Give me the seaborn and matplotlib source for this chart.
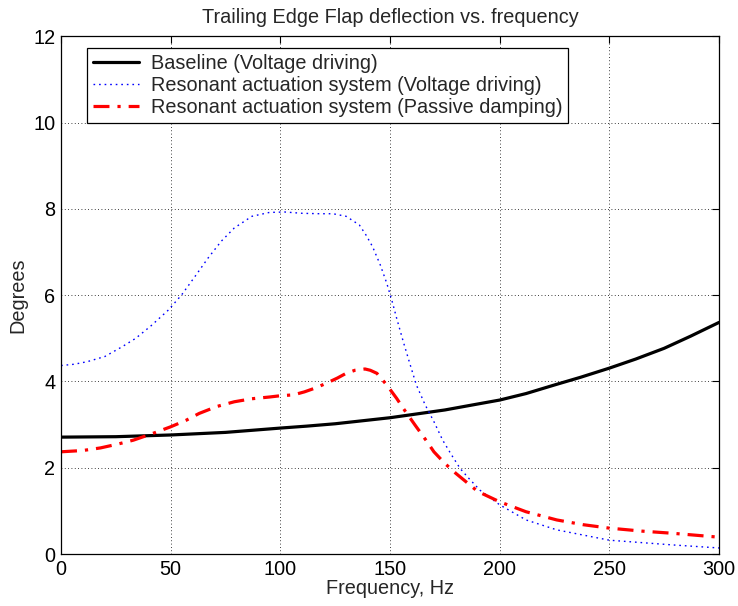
import numpy as np
import pandas as pd
import matplotlib
matplotlib.use("Agg")
import matplotlib.pyplot as plt
import seaborn as sns

# ==================== 数据 ====================
freq_base = [0, 25, 50, 75, 100, 112, 125, 150, 175, 188, 200, 212, 225, 237,
             250, 262, 275, 287, 300]
deg_base = [2.71, 2.72, 2.76, 2.82, 2.92, 2.965, 3.02, 3.16, 3.34, 3.46, 3.57, 3.72,
            3.92, 4.10, 4.31, 4.52, 4.77, 5.05, 5.37]

freq_volt = [0, 6, 12, 20, 28, 34, 41, 49, 55, 61, 67, 73, 79, 87, 95, 102, 110,
             118, 124, 130, 136, 139, 142, 145.5, 148.5, 151, 153, 156, 159, 162,
             166, 170, 174, 178, 182, 186, 191, 200, 212, 226, 250, 279, 300]
deg_volt = [4.37, 4.40, 4.46, 4.58, 4.81, 5.00, 5.29, 5.66, 6.01, 6.43, 6.86, 7.25,
            7.56, 7.83, 7.92, 7.93, 7.90, 7.89, 7.89, 7.83, 7.63, 7.40, 7.13, 6.71,
            6.28, 5.85, 5.47, 4.93, 4.42, 3.92, 3.46, 3.07, 2.64, 2.30, 1.98, 1.75,
            1.48, 1.14, 0.79, 0.56, 0.32, 0.21, 0.14]

freq_pass = [0, 10, 18, 26, 33, 41, 50, 57, 63, 71, 79, 87, 95, 100, 106, 111,
             116, 121, 126, 130, 134, 138.6, 141, 144, 148.5, 153, 156, 161.4,
             166.8, 170, 175, 180, 190, 200, 212, 226, 238, 250, 265, 279, 300]
deg_pass = [2.37, 2.40, 2.46, 2.55, 2.64, 2.78, 2.95, 3.10, 3.26, 3.42, 3.53, 3.60,
            3.64, 3.67, 3.69, 3.76, 3.85, 3.96, 4.08, 4.19, 4.26, 4.29, 4.26, 4.19,
            3.92, 3.61, 3.38, 2.99, 2.61, 2.37, 2.10, 1.87, 1.45, 1.21, 0.98, 0.79,
            0.68, 0.60, 0.53, 0.48, 0.39]

labels = ["Baseline (Voltage driving)",
          "Resonant actuation system (Voltage driving)",
          "Resonant actuation system (Passive damping)"]

x_ticks = [0, 50, 100, 150, 200, 250, 300]
y_ticks = [0, 2, 4, 6, 8, 10, 12]

# ==================== 样式 ====================
sns.set_style("white")
plt.rcParams['font.family'] = ['Liberation Sans', 'DejaVu Sans']
FS = 14.3

fig = plt.figure(figsize=(7.38, 6.06), dpi=100)
ax = fig.add_axes([0.0827, 0.0858, 0.8916, 0.854])

sns.lineplot(x=freq_base, y=deg_base, ax=ax, color='black', lw=2.3,
             linestyle='-', label=labels[0])
sns.lineplot(x=freq_volt, y=deg_volt, ax=ax, color='blue', lw=1.0,
             linestyle=(0, (1.2, 2.8)), label=labels[1])
sns.lineplot(x=freq_pass, y=deg_pass, ax=ax, color='red', lw=2.3,
             linestyle=(0, (5, 2.5, 1, 2.5)), label=labels[2])

ax.set_xlim(0, 300)
ax.set_ylim(0, 12)
ax.set_xticks(x_ticks)
ax.set_yticks(y_ticks)
ax.grid(True, color='black', linestyle=(0, (1, 3)), linewidth=0.6)
ax.tick_params(direction='in', top=True, right=True, length=5, width=0.8,
               labelsize=FS, colors='black', pad=4)
for s in ax.spines.values():
    s.set_color('black')
    s.set_linewidth(0.9)

ax.set_xlabel('Frequency, Hz', fontsize=FS, labelpad=0)
ax.set_ylabel('Degrees', fontsize=FS, labelpad=4)
ax.set_title('Trailing Edge Flap deflection vs. frequency', fontsize=FS, pad=10)

leg = ax.legend(loc='upper left', bbox_to_anchor=(0.04, 0.978), fontsize=FS,
                frameon=True, fancybox=False, framealpha=1, edgecolor='black',
                borderpad=0.3, labelspacing=0.15, handlelength=2.3,
                handletextpad=0.6, borderaxespad=0)
leg.get_frame().set_linewidth(0.9)

fig.savefig('out.png', dpi=100)
